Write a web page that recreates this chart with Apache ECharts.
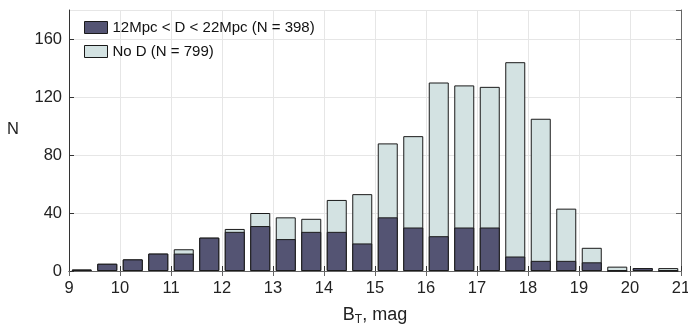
<!DOCTYPE html>
<html>
<head>
<meta charset="utf-8">
<script src="https://cdn.jsdelivr.net/npm/echarts@6/dist/echarts.min.js"></script>
<style>
  html, body { margin: 0; padding: 0; background: #fff; }
  #chart { width: 688px; height: 325px; }
</style>
</head>
<body>
<div id="chart"></div>
<script>
// Bin centres of B_T (0.5 mag bins from 9 to 21)
const binCenters = [9.25, 9.75, 10.25, 10.75, 11.25, 11.75, 12.25, 12.75, 13.25, 13.75,
  14.25, 14.75, 15.25, 15.75, 16.25, 16.75, 17.25, 17.75, 18.25, 18.75,
  19.25, 19.75, 20.25, 20.75];
// Galaxies with 12 < D < 22 Mpc
const withDistance = [1, 5, 8, 12, 12, 23, 27, 31, 22, 27,
  27, 19, 37, 30, 24, 30, 30, 10, 7, 7,
  6, 0, 2, 0];
// Galaxies without a distance estimate (stacked on top)
const noDistance = [0, 0, 0, 0, 3, 0, 2, 9, 15, 9,
  22, 34, 51, 63, 106, 98, 97, 134, 98, 36,
  10, 3, 0, 2];
const seriesNames = ['12Mpc < D < 22Mpc (N = 398)', 'No D (N = 799)'];

const font = 'Liberation Sans, Arial, Helvetica, sans-serif';
const axisColor = '#333';
const boxColor = '#666';
const gridColor = '#e6e6e6';

// The light bars show the full column height (with D + no D); the dark bars sit in front.
const totals = withDistance.map((v, i) => v + noDistance[i]);
const pairs = (vals) => binCenters.map((x, i) => [x, vals[i]]);

const chart = echarts.init(document.getElementById('chart'), null, { renderer: 'canvas' });
chart.setOption({
  animation: false,
  backgroundColor: '#fff',
  grid: { left: 69, right: 7, top: 10, bottom: 54, containLabel: false, outerBoundsMode: 'none' },
  legend: {
    orient: 'vertical',
    left: 84, top: 20, padding: 0,
    icon: 'rect',
    itemWidth: 23, itemHeight: 12, itemGap: 9,
    itemStyle: { borderWidth: 1, borderColor: '#1a1a1a' },
    textStyle: { fontFamily: font, fontSize: 15, color: '#111' },
    data: seriesNames
  },
  xAxis: [{
    type: 'value', min: 9, max: 21, interval: 1,
    name: 'B{sub|T}, mag', nameLocation: 'middle', nameGap: 33,
    nameTextStyle: {
      fontFamily: font, fontSize: 18, color: '#222',
      rich: { sub: { fontFamily: font, fontSize: 12, color: '#222', verticalAlign: 'bottom', padding: [10, 0, 0, 0] } }
    },
    axisLine: { show: true, lineStyle: { color: axisColor, width: 1 } },
    axisTick: { show: true, inside: true, length: 5, lineStyle: { color: axisColor } },
    axisLabel: { fontFamily: font, fontSize: 16.5, color: '#222', margin: 9 },
    splitLine: { show: true, lineStyle: { color: gridColor, width: 1 } }
  }, {
    type: 'value', min: 9, max: 21, interval: 1, position: 'top',
    axisLine: { show: true, lineStyle: { color: boxColor, width: 1 } },
    axisTick: { show: true, inside: true, length: 5, lineStyle: { color: boxColor } },
    axisLabel: { show: false },
    splitLine: { show: false }
  }],
  yAxis: [{
    type: 'value', min: 0, max: 180, interval: 40,
    axisLine: { show: true, lineStyle: { color: axisColor, width: 1 } },
    axisTick: { show: true, inside: true, length: 5, lineStyle: { color: axisColor } },
    axisLabel: { fontFamily: font, fontSize: 16.5, color: '#222', margin: 7, showMaxLabel: false },
    splitLine: { show: true, lineStyle: { color: gridColor, width: 1 } }
  }, {
    type: 'value', min: 0, max: 180, interval: 40, position: 'right',
    axisLine: { show: true, lineStyle: { color: boxColor, width: 1 } },
    axisTick: { show: true, inside: true, length: 5, lineStyle: { color: boxColor } },
    axisLabel: { show: false },
    splitLine: { show: false }
  }],
  graphic: [{
    type: 'text', left: 7, top: 121,
    style: { text: 'N', fontFamily: font, fontSize: 16.5, fill: '#222' }
  }],
  series: [{
    name: seriesNames[1], type: 'bar',
    xAxisIndex: 0, yAxisIndex: 0,
    barWidth: 20, barGap: '-100%',
    itemStyle: { color: '#d3e2e2', borderColor: '#1a1a1a', borderWidth: 1 },
    data: pairs(totals)
  }, {
    name: seriesNames[0], type: 'bar',
    xAxisIndex: 0, yAxisIndex: 0,
    barWidth: 20, barGap: '-100%',
    itemStyle: { color: '#545473', borderColor: '#1a1a1a', borderWidth: 1 },
    data: pairs(withDistance)
  }]
});
</script>
</body>
</html>
